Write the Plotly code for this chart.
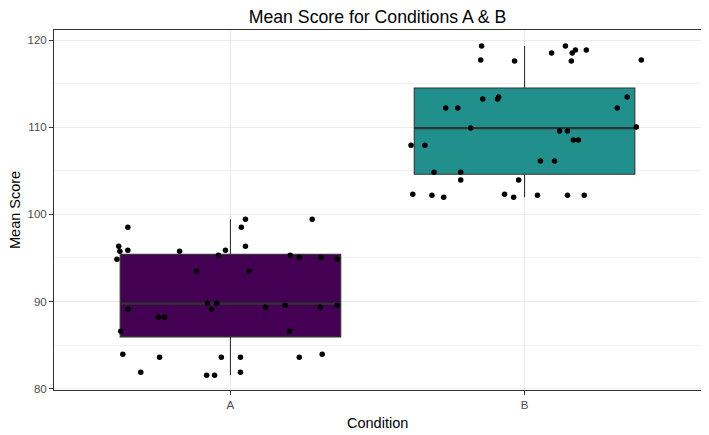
import plotly.graph_objects as go

# ---- data ----
categories = ["A", "B"]
cat_pos = [1, 2]

# box statistics (q1, median, q3, lower whisker, upper whisker)
q1 = [85.94, 104.60]
median = [89.76, 109.89]
q3 = [95.43, 114.49]
lower = [81.54, 101.97]
upper = [99.45, 119.31]

box_colors = ["#440154", "#21908C"]

# jittered points: horizontal jitter offset (category units) and score
a_jitter = [-0.349, 0.051, 0.037, 0.278, -0.380, -0.376, -0.349, -0.386, -0.173, -0.017,
            -0.041, 0.051, 0.203, 0.234, 0.308, 0.363, -0.115, 0.064, -0.078, -0.047,
            -0.064, -0.349, 0.119, 0.186, 0.305, 0.363, -0.244, -0.224, -0.373, 0.200,
            -0.366, -0.241, -0.031, 0.034, 0.234, 0.312, -0.305, -0.081, -0.054, 0.034]
a_score = [98.53, 99.45, 98.53, 99.45, 96.35, 95.77, 95.89, 94.86, 95.77, 95.89,
           95.32, 96.35, 95.32, 95.09, 95.09, 94.86, 93.48, 93.48, 89.80, 89.80,
           89.12, 89.12, 89.35, 89.58, 89.35, 89.58, 88.20, 88.20, 86.59, 86.59,
           83.95, 83.61, 83.61, 83.61, 83.61, 83.95, 81.88, 81.54, 81.54, 81.88]

b_jitter = [-0.146, -0.149, -0.034, 0.092, 0.139, 0.162, 0.173, 0.210, 0.159, 0.397,
            -0.142, -0.092, -0.088, -0.268, -0.227, 0.315, 0.349, -0.183, 0.380, 0.119,
            0.146, -0.386, -0.339, 0.166, 0.183, 0.054, 0.102, -0.308, -0.217, -0.217,
            -0.020, -0.380, -0.315, -0.275, -0.068, -0.037, 0.044, 0.146, 0.203]
b_score = [119.31, 117.70, 117.59, 118.51, 119.31, 118.51, 118.85, 118.85, 117.59, 117.70,
           113.23, 113.23, 113.46, 112.19, 112.19, 112.19, 113.46, 109.90, 110.01, 109.55,
           109.55, 107.94, 107.94, 108.52, 108.52, 106.11, 106.11, 104.84, 104.84, 103.93,
           103.93, 102.32, 102.20, 101.97, 102.32, 101.97, 102.20, 102.20, 102.20]

y_ticks = [80, 90, 100, 110, 120]
y_minor = [85, 95, 105, 115]

title_text = "Mean Score for Conditions A & B"
x_title = "Condition"
y_title = "Mean Score"

BOX_W = 0.75
FONT = "Liberation Sans, Arial, sans-serif"

# the page body has an 8px default margin; the figure is sized to fit the 709x435 window
W, H = 701, 427

fig = go.Figure()

for i in range(len(categories)):
    fig.add_trace(go.Box(
        x=[cat_pos[i]],
        q1=[q1[i]], median=[median[i]], q3=[q3[i]],
        lowerfence=[lower[i]], upperfence=[upper[i]],
        width=BOX_W,
        fillcolor=box_colors[i],
        line=dict(color="#333333", width=1.1),
        whiskerwidth=0,
        boxpoints=False,
        hoverinfo="skip",
        showlegend=False,
    ))
    # thicker median line (ggplot fatten)
    fig.add_trace(go.Scatter(
        x=[cat_pos[i] - BOX_W / 2, cat_pos[i] + BOX_W / 2],
        y=[median[i], median[i]],
        mode="lines",
        line=dict(color="#333333", width=2.2),
        hoverinfo="skip",
        showlegend=False,
    ))

fig.add_trace(go.Scatter(
    x=[cat_pos[0] + j for j in a_jitter], y=a_score,
    mode="markers", marker=dict(color="black", size=5.5),
    showlegend=False,
))
fig.add_trace(go.Scatter(
    x=[cat_pos[1] + j for j in b_jitter], y=b_score,
    mode="markers", marker=dict(color="black", size=5.5),
    showlegend=False,
))

fig.update_layout(
    width=W, height=H,
    margin=dict(l=46, r=8, t=22, b=45, autoexpand=False),
    paper_bgcolor="white", plot_bgcolor="white",
    font=dict(family=FONT, color="black"),
    title=dict(text=title_text, x=0.5, xref="paper", xanchor="center",
               y=1 - 8.8 / H, yref="container", yanchor="middle",
               font=dict(size=17.7, family=FONT, color="black")),
    showlegend=False,
    annotations=[
        dict(text=x_title, xref="paper", yref="paper", x=0.5, y=0,
             xanchor="center", yanchor="middle", yshift=-32.5, showarrow=False,
             font=dict(size=14.5, family=FONT, color="black")),
        dict(text=y_title, xref="paper", yref="paper", x=0, y=0.5,
             xanchor="center", yanchor="middle", xshift=-39, showarrow=False,
             textangle=-90, font=dict(size=14.5, family=FONT, color="black")),
    ],
)

fig.update_xaxes(
    range=[0.4, 2.6], automargin=False,
    tickvals=cat_pos, ticktext=categories,
    showgrid=True, gridcolor="#EBEBEB", gridwidth=1,
    zeroline=False,
    showline=True, linecolor="#333333", linewidth=1, mirror=True,
    ticks="outside", ticklen=4, tickcolor="#333333", tickwidth=1,
    tickfont=dict(size=11.5, color="#4D4D4D", family=FONT),
)
fig.update_yaxes(
    range=[79.85, 121.15], automargin=False,
    tickvals=y_ticks,
    showgrid=True, gridcolor="#EBEBEB", gridwidth=1,
    minor=dict(tickvals=y_minor, showgrid=True, gridcolor="#F2F2F2", gridwidth=0.6, ticks=""),
    zeroline=False,
    showline=True, linecolor="#333333", linewidth=1, mirror=True,
    ticks="outside", ticklen=4, tickcolor="#333333", tickwidth=1,
    tickfont=dict(size=11.5, color="#4D4D4D", family=FONT),
)

fig.write_html("out.html")
